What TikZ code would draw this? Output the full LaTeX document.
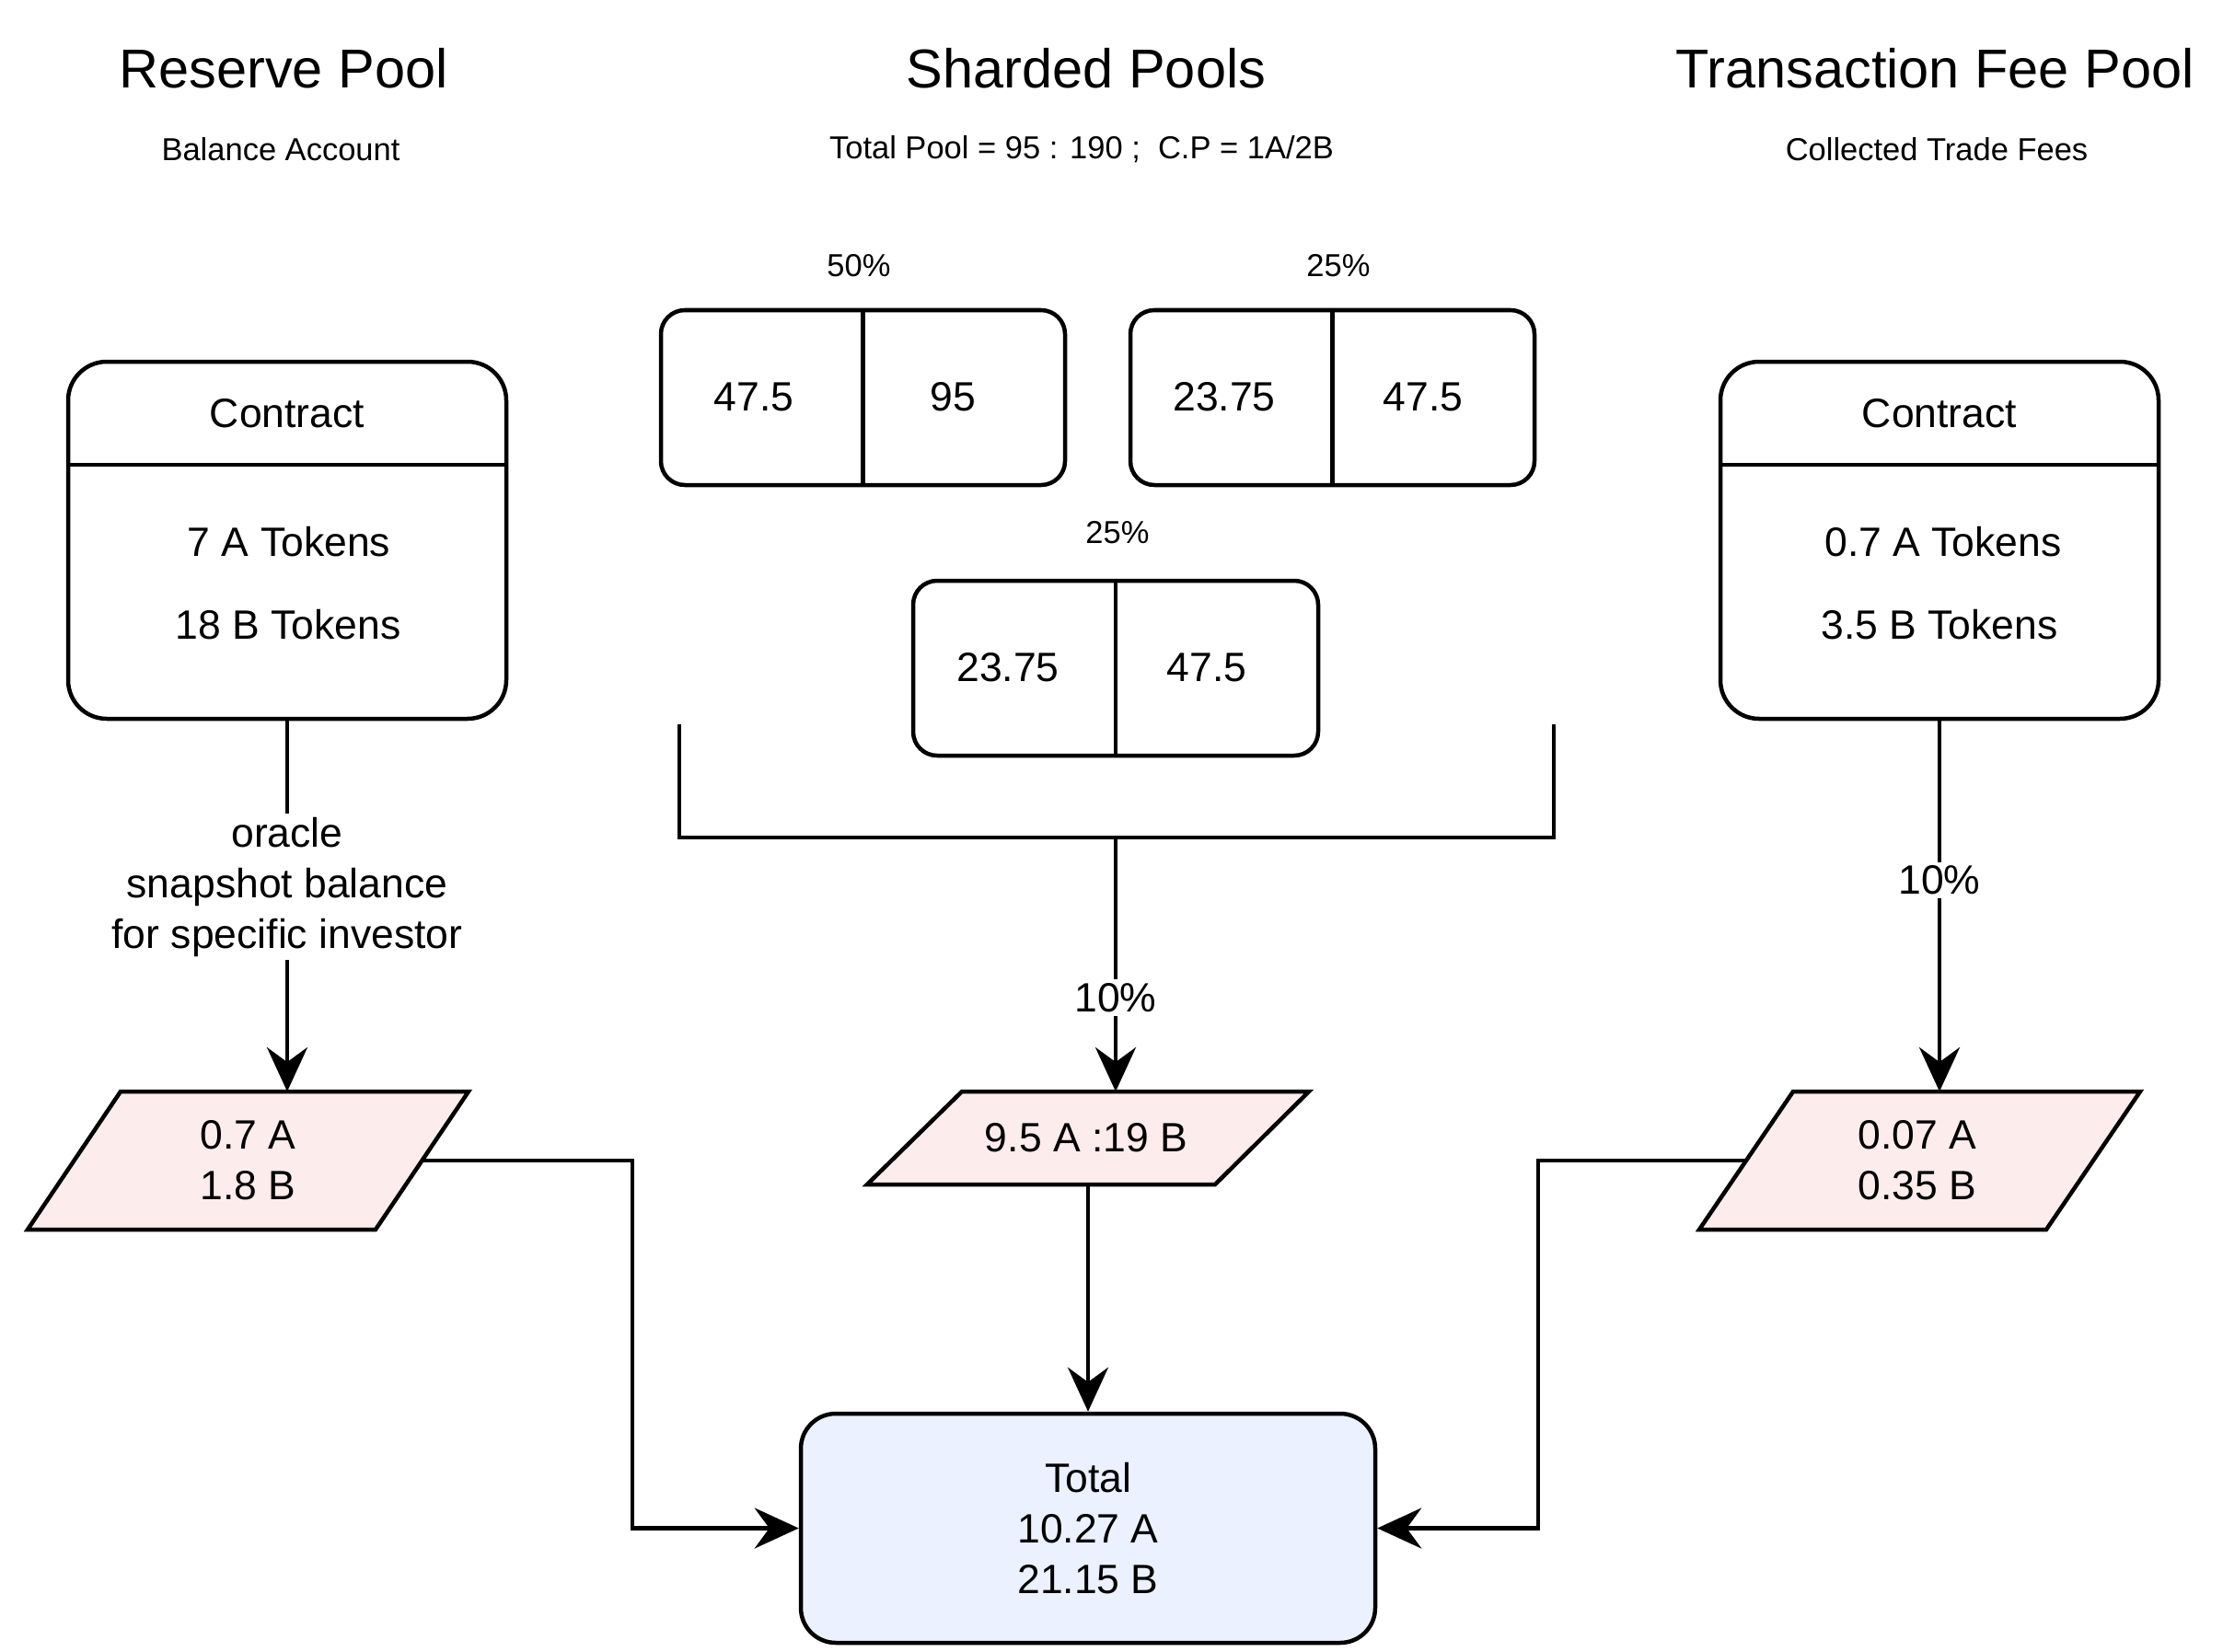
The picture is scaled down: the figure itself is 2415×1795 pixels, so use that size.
\documentclass[tikz,border=0pt]{standalone}
\usepackage{fontspec}
\setmainfont{Liberation Sans}
\usetikzlibrary{arrows.meta}
\definecolor{pinkfill}{HTML}{FDECEC}
\definecolor{bluefill}{HTML}{EBF1FE}
\begin{document}
\begin{tikzpicture}[x=1pt,y=-1pt,line width=4.5pt,
  title/.style={font=\fontsize{59.5}{70}\selectfont,inner sep=0pt},
  sub/.style={font=\fontsize{34.5}{42}\selectfont,inner sep=0pt},
  txt/.style={font=\fontsize{44.5}{55}\selectfont,inner sep=0pt,align=center},
  rbox/.style={draw,rounded corners=#1,inner sep=0pt},
  para/.style={draw,fill=pinkfill,line join=miter},
  arr/.style={-{Stealth[length=48pt,width=44pt,inset=16pt]}},
  lbl/.style={txt,fill=white,inner sep=4pt}]
\useasboundingbox (0,0) rectangle (2415,1795);

% titles
\node[title] (t1) at (308,74) {Reserve Pool};
\node[title] (t2) at (1180,74) {Sharded Pools};
\node[title] (t3) at (2102,74) {Transaction Fee Pool};
\node[sub] (st1) at (305,162) {Balance Account};
\node[sub] (st2) at (1175,162) {Total Pool = 95 : 190 ;~ C.P = 1A/2B};
\node[sub] (st3) at (2104,162) {Collected Trade Fees};

% left contract
\node[rbox=42pt,minimum width=476pt,minimum height=388pt] (lc) at (312,587) {};
\draw (74,505) -- (550,505);
\node[txt] (lch) at (312,449) {Contract};
\node[txt] (lc1) at (314,589) {7 A Tokens};
\node[txt] (lc2) at (313,679) {18 B Tokens};

% right contract
\node[rbox=42pt,minimum width=476pt,minimum height=388pt] (rc) at (2107,587) {};
\draw (1869,505) -- (2345,505);
\node[txt] (rch) at (2107,449) {Contract};
\node[txt] (rc1) at (2111,589) {0.7 A Tokens};
\node[txt] (rc2) at (2107,679) {3.5 B Tokens};

% shards
\node[sub] (p50) at (933,289) {50\%};
\node[sub] (p25a) at (1454,289) {25\%};
\node[sub] (p25b) at (1214,579) {25\%};
\node[rbox=26pt,minimum width=439pt,minimum height=190pt] (s1) at (937.5,432) {};
\draw (s1.north) -- (s1.south);
\node[txt] (s1a) at (819,431) {47.5};
\node[txt] (s1b) at (1035,431) {95};
\node[rbox=26pt,minimum width=439pt,minimum height=190pt] (s2) at (1447.5,432) {};
\draw (s2.north) -- (s2.south);
\node[txt] (s2a) at (1330,431) {23.75};
\node[txt] (s2b) at (1546,431) {47.5};
\node[rbox=26pt,minimum width=440pt,minimum height=190pt] (s3) at (1212,726) {};
\draw (s3.north) -- (s3.south);
\node[txt] (s3a) at (1095,725) {23.75};
\node[txt] (s3b) at (1311,725) {47.5};

% bracket
\draw (738,787) -- (738,910) -- (1688,910) -- (1688,787);
\coordinate (brk) at (1212,910);

% parallelograms
\draw[para] (131,1186) -- (509,1186) -- (408,1336) -- (30,1336) -- cycle;
\node[txt] (p1) at (269.5,1261) {0.7 A\\1.8 B};
\coordinate (p1n) at (312,1186);
\coordinate (p1e) at (458.5,1261);

\draw[para] (1045,1186) -- (1422,1186) -- (1320,1287) -- (942,1287) -- cycle;
\node[txt] (p2) at (1180,1236) {9.5 A :19 B};
\coordinate (p2n) at (1212,1186);
\coordinate (p2s) at (1182,1287);

\draw[para] (1948,1186) -- (2325,1186) -- (2223,1336) -- (1846,1336) -- cycle;
\node[txt] (p3) at (2083,1261) {0.07 A\\0.35 B};
\coordinate (p3n) at (2107,1186);
\coordinate (p3w) at (1897,1261);

% total
\node[rbox=38pt,fill=bluefill,minimum width=624pt,minimum height=249pt,txt] (tot) at (1182,1660.5) {Total\\10.27 A\\21.15 B};

% connectors
\draw[arr] (lc.south) -- (p1n) node[lbl,pos=0.448] {oracle\\snapshot balance\\for specific investor};
\draw[arr] (rc.south) -- (p3n) node[lbl,pos=0.43] {10\%};
\draw[arr] (brk) -- (p2n) node[lbl,pos=0.63] {10\%};
\draw[arr] (p2s) -- (tot.north);
\draw[arr] (p1e) -- (687,1261) |- (tot.west);
\draw[arr] (p3w) -- (1671,1261) |- (tot.east);
\end{tikzpicture}
\end{document}
